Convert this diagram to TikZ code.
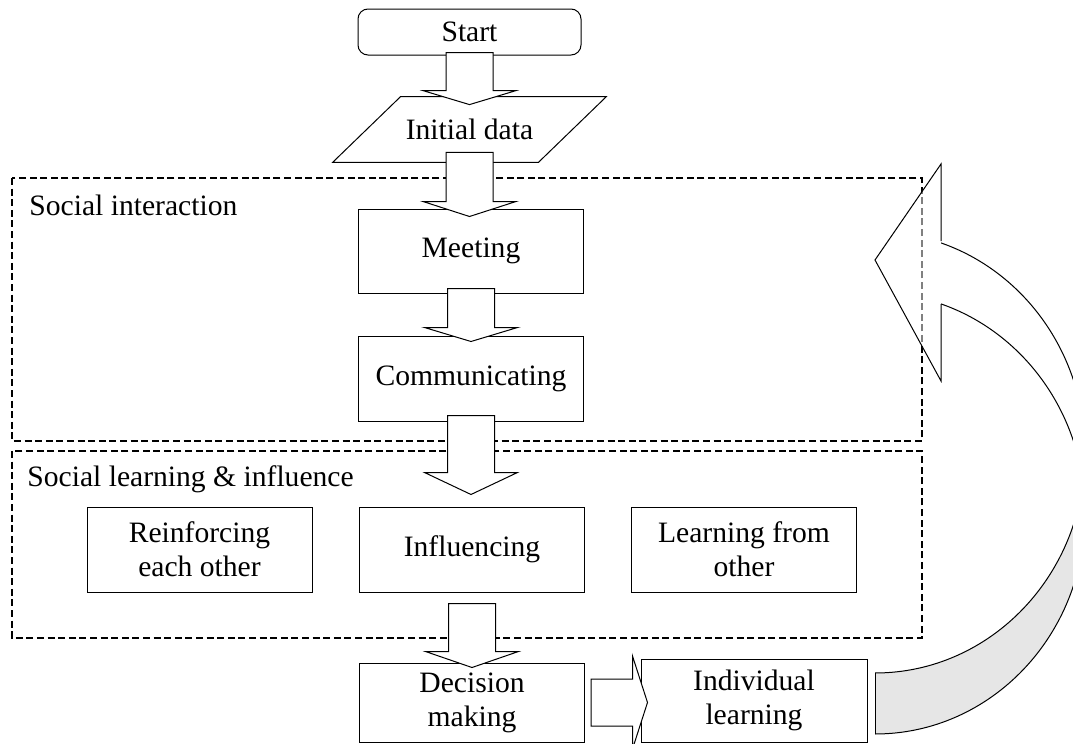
\documentclass[tikz,border=0pt]{standalone}
\usepackage{fontspec}
\setmainfont{Liberation Serif}
\usetikzlibrary{calc}
\definecolor{backgrey}{HTML}{E6E6E6}
\newcommand{\boxfont}{\fontsize{14.8pt}{17pt}\selectfont}

\tikzset{
  procbox/.style={draw, line width=0.5pt, fill=white, minimum width=112.5pt,
    minimum height=42.5pt, align=center, inner sep=0pt, font=\boxfont},
  groupbox/.style={draw, line width=1.2pt, dash pattern=on 3.5pt off 1.8pt},
  grouplabel/.style={anchor=base west, inner sep=0pt, font=\boxfont},
  fatarrow/.style={draw, line width=0.5pt, fill=white, line join=miter},
}

% block arrow: from, to, shaft start (up from from.south), tip (up from to.north), head length
\newcommand{\fatdown}[5]{%
  \draw[fatarrow] let \p1=(#1.south), \p2=(#2.north) in
    ({\x1-11.75pt},{\y1+#3}) -- ({\x1-11.75pt},{\y2+#4+#5}) -- ({\x1-23.25pt},{\y2+#4+#5})
    -- ({\x1},{\y2+#4}) -- ({\x1+23.25pt},{\y2+#4+#5}) -- ({\x1+11.75pt},{\y2+#4+#5})
    -- ({\x1+11.75pt},{\y1+#3}) -- cycle;}

\begin{document}
\begin{tikzpicture}[x=0.5pt,y=-0.5pt]
  \useasboundingbox (0,0) rectangle (1073,744);

  % groups
  \draw[groupbox] (12,178) rectangle (922,441);
  \draw[groupbox] (12,451) rectangle (922,638);
  \node[grouplabel] (lblinter) at (29,215) {Social interaction};
  \node[grouplabel] (lbllearn) at (27,486) {Social learning \& influence};

  % flow
  \node[procbox, rounded corners=5pt, minimum width=111.5pt, minimum height=23pt] (start) at (469.5,32) {Start};
  \node[font=\boxfont, minimum width=102.5pt, minimum height=32.5pt, inner sep=0pt] (init) at (469.5,129.5) {Initial data};
  \draw[line width=0.5pt] ($(init.south west)+(-17pt,0)$) -- ($(init.south east)+(-17pt,0)$)
    -- ($(init.north east)+(17pt,0)$) -- ($(init.north west)+(17pt,0)$) -- cycle;
  \node[procbox, minimum height=42pt] (meet) at (471,251) {Meeting};
  \node[procbox] (comm) at (471,378.5) {Communicating};
  \node[procbox] (reinf) at (199.5,549.5) {Reinforcing\\each other};
  \node[procbox] (infl) at (472,549.5) {Influencing};
  \node[procbox] (learn) at (744,549.5) {Learning from\\other};
  \node[procbox, minimum height=39.5pt] (dec) at (472,702.5) {Decision\\making};
  \node[procbox, minimum width=113pt, minimum height=41.5pt] (indiv) at (754,700.5) {Individual\\learning};

  \fatdown{start}{init}{1.5pt}{-4pt}{7pt}
  \fatdown{init}{meet}{5pt}{-4pt}{7.5pt}
  \fatdown{meet}{comm}{2.5pt}{-3pt}{7pt}
  \fatdown{comm}{infl}{3pt}{6pt}{11pt}
  \fatdown{infl}{dec}{-5.5pt}{-2.5pt}{8pt}
  \draw[fatarrow] let \p1=(dec.east), \p2=(indiv.west) in
    ({\x1+3pt},{\y1+11.75pt}) -- ({\x2-4pt},{\y1+11.75pt}) -- ({\x2-4pt},{\y1+23.25pt})
    -- ({\x2+3.5pt},{\y1}) -- ({\x2-4pt},{\y1-23.25pt}) -- ({\x2-4pt},{\y1-11.75pt})
    -- ({\x1+3pt},{\y1-11.75pt}) -- cycle;

  % feedback arrow
  \begin{scope}
    \clip (941,0) rectangle (1100,483);
    \fill[white, even odd rule] (875,452.4) ellipse [x radius=105pt, y radius=110.3pt]
      (875,513.4) ellipse [x radius=105pt, y radius=110.3pt];
    \draw[line width=0.5pt] (875,452.4) ellipse [x radius=105pt, y radius=110.3pt]
      (875,513.4) ellipse [x radius=105pt, y radius=110.3pt];
  \end{scope}
  \begin{scope}
    \clip (875,483) rectangle (1100,760);
    \fill[backgrey, even odd rule] (875,452.4) ellipse [x radius=105pt, y radius=110.3pt]
      (875,513.4) ellipse [x radius=105pt, y radius=110.3pt];
    \draw[line width=0.5pt] (875,452.4) ellipse [x radius=105pt, y radius=110.3pt]
      (875,513.4) ellipse [x radius=105pt, y radius=110.3pt];
  \end{scope}
  \draw[line width=0.5pt] (875,673) -- (875,734);
  \draw[line width=0.5pt, fill=white, fill opacity=0.5, line join=miter]
    (941,241) -- (941,164) -- (875,260) -- (941,381) -- (941,304);
\end{tikzpicture}
\end{document}
